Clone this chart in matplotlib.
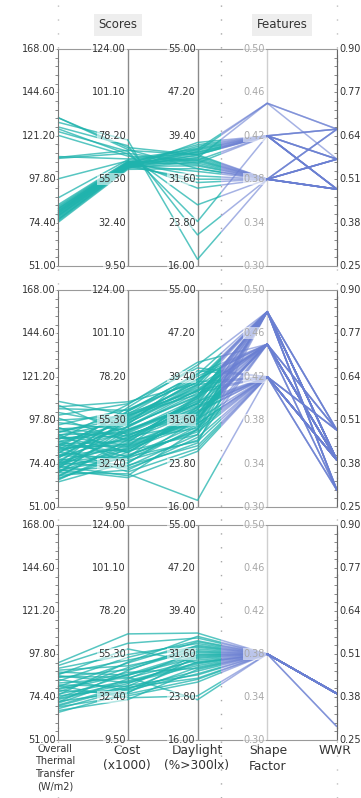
import numpy as np
import matplotlib
matplotlib.use("Agg")
import matplotlib.pyplot as plt
from matplotlib.collections import LineCollection
from matplotlib.patches import Rectangle
from matplotlib.ticker import MultipleLocator
from matplotlib.transforms import offset_copy

# axes of the parallel plot
axis_names = ["Overall\nThermal\nTransfer\n(W/m2)", "Cost\n(x1000)", "Daylight\n(%>300lx)",
              "Shape\nFactor", "WWR"]
axis_lo = [51.0, 9.5, 16.0, 0.30, 0.25]
axis_hi = [168.0, 124.0, 55.0, 0.50, 0.90]

# panel 1
p1_thermal = [74.5, 75.2, 75.8, 76.3, 76.9, 77.4, 77.9, 78.3, 78.8, 79.2, 79.7, 80.1, 80.6, 81.0,
              81.5, 82.0, 82.6, 83.2, 84.0, 78.0, 76.0, 80.5, 87.7, 79.5, 81.8, 131.0, 128.5,
              126.0, 123.5, 121.5, 131.0, 109.5, 109.0, 110.0, 125.0, 98.0]
p1_cost = [60.5, 61.0, 61.3, 61.6, 61.9, 62.1, 62.3, 62.5, 62.7, 62.9, 63.1, 63.3, 63.5, 63.7,
           63.9, 64.1, 64.3, 64.5, 64.8, 62.0, 61.5, 63.0, 65.5, 62.6, 63.6, 72.0, 76.0, 73.0,
           70.0, 67.5, 71.0, 70.5, 69.0, 66.0, 68.5, 65.0]
p1_daylight = [33.5, 34.8, 36.0, 35.2, 37.0, 34.0, 36.5, 35.5, 37.5, 33.0, 36.2, 34.5, 37.8, 35.8,
               32.2, 36.8, 35.0, 37.2, 34.2, 31.6, 38.2, 31.0, 36.4, 36.6, 35.4, 36.0, 17.2, 21.6,
               24.0, 35.0, 33.5, 36.0, 34.5, 37.0, 27.0, 30.0]
p1_shape = [0.38, 0.38, 0.42, 0.38, 0.42, 0.38, 0.42, 0.38, 0.42, 0.38, 0.42, 0.38, 0.42, 0.38,
            0.38, 0.42, 0.38, 0.42, 0.38, 0.38, 0.42, 0.38, 0.42, 0.45, 0.45, 0.42, 0.38, 0.38,
            0.42, 0.42, 0.38, 0.38, 0.42, 0.45, 0.38, 0.38]
p1_wwr = [0.48, 0.57, 0.48, 0.66, 0.57, 0.48, 0.66, 0.57, 0.48, 0.48, 0.57, 0.66, 0.48, 0.48,
          0.57, 0.66, 0.48, 0.57, 0.48, 0.57, 0.48, 0.48, 0.48, 0.66, 0.57, 0.48, 0.57, 0.48,
          0.66, 0.48, 0.57, 0.48, 0.57, 0.66, 0.48, 0.66]

# panel 2
p2_thermal = [64.5, 66.0, 67.2, 68.0, 69.1, 70.0, 70.8, 71.5, 72.3, 73.0, 73.8, 74.5, 75.2, 76.0,
              76.8, 77.5, 78.2, 79.0, 79.8, 80.5, 81.2, 82.0, 82.8, 83.5, 84.3, 85.0, 85.8, 86.5,
              87.3, 88.0, 88.8, 89.5, 90.3, 91.0, 92.0, 93.0, 94.0, 95.2, 96.5, 97.8, 99.0,
              100.5, 102.0, 104.0, 106.0, 108.0, 105.0, 71.0, 69.5, 75.0, 78.5, 84.0, 90.0, 66.5,
              67.8, 69.8, 71.8, 72.8, 74.2, 75.8, 77.2, 78.8, 80.2, 81.8, 83.2, 84.8, 86.2, 87.8,
              89.2, 91.5, 93.5, 70.5, 73.5, 65.5]
p2_cost = [33.0, 38.5, 45.0, 29.0, 52.0, 41.0, 35.5, 57.0, 48.0, 26.0, 43.5, 60.0, 37.0, 50.5,
           31.5, 54.5, 46.0, 40.0, 62.0, 34.0, 49.0, 56.0, 42.5, 28.0, 58.5, 44.0, 51.5, 36.0,
           63.5, 47.0, 39.0, 55.0, 32.5, 59.0, 45.5, 53.0, 38.0, 61.0, 50.0, 57.5, 44.5, 64.0,
           52.5, 60.5, 47.5, 58.0, 65.0, 25.0, 27.0, 30.0, 53.5, 41.5, 48.5, 36.5,
           43.0, 50.0, 39.5, 55.5, 46.5, 41.5, 58.0, 35.0, 52.0, 45.0, 60.0, 38.5, 54.0, 49.5,
           42.0, 56.5, 47.0, 31.0, 36.0, 40.5]
p2_daylight = [30.5, 33.0, 35.5, 28.5, 37.0, 31.5, 34.0, 38.5, 32.5, 30.0, 36.0, 40.0, 29.5, 34.5,
               27.0, 39.0, 33.5, 31.0, 41.5, 28.0, 35.0, 37.5, 32.0, 26.5, 39.5, 34.8, 36.5, 30.8,
               42.0, 33.8, 29.0, 38.0, 31.8, 36.8, 35.2, 40.5, 32.8, 38.8, 34.2, 37.2, 30.2, 41.0,
               35.8, 39.8, 33.2, 36.2, 38.2, 26.0, 17.2, 27.5, 37.8, 31.2, 34.6, 29.8,
               32.2, 34.6, 33.5, 36.8, 31.0, 35.8, 38.0, 30.0, 36.0, 33.0, 39.0, 32.5, 37.0, 35.5,
               31.5, 38.5, 34.0, 29.0, 27.8, 31.8]
p2_shape = [0.42, 0.45, 0.48, 0.42, 0.45, 0.48, 0.42, 0.48, 0.45, 0.42, 0.48, 0.45, 0.42, 0.48,
            0.42, 0.45, 0.48, 0.42, 0.48, 0.45, 0.42, 0.48, 0.45, 0.42, 0.45, 0.48, 0.42, 0.48,
            0.45, 0.42, 0.45, 0.48, 0.42, 0.45, 0.48, 0.42, 0.45, 0.48, 0.42, 0.45, 0.48, 0.42,
            0.45, 0.48, 0.42, 0.45, 0.48, 0.42, 0.42, 0.48, 0.45, 0.48, 0.45, 0.48,
            0.45, 0.42, 0.48, 0.45, 0.42, 0.48, 0.42, 0.45, 0.48, 0.42, 0.45, 0.48, 0.42, 0.45,
            0.48, 0.42, 0.45, 0.48, 0.42, 0.45]
p2_wwr = [0.39, 0.39, 0.30, 0.48, 0.39, 0.39, 0.30, 0.39, 0.48, 0.39, 0.39, 0.30, 0.39, 0.48,
          0.39, 0.39, 0.30, 0.39, 0.39, 0.48, 0.39, 0.39, 0.30, 0.39, 0.39, 0.48, 0.39, 0.39,
          0.30, 0.39, 0.39, 0.48, 0.39, 0.39, 0.30, 0.39, 0.39, 0.39, 0.48, 0.39, 0.39, 0.30,
          0.39, 0.39, 0.48, 0.39, 0.39, 0.39, 0.39, 0.30, 0.48, 0.39, 0.39, 0.39,
          0.39, 0.39, 0.30, 0.39, 0.48, 0.39, 0.39, 0.39, 0.30, 0.39, 0.39, 0.48, 0.39, 0.39,
          0.39, 0.30, 0.39, 0.39, 0.39, 0.48]

# panel 3
p3_thermal = [93.0, 91.5, 90.0, 89.0, 88.0, 87.0, 86.0, 85.0, 84.0, 83.0, 82.0, 81.0, 80.0, 79.0,
              78.0, 77.0, 76.0, 75.0, 74.0, 73.0, 72.0, 71.0, 70.0, 69.0, 68.0, 67.0, 66.0, 71.5,
              75.5, 80.5, 85.5, 73.5, 78.5, 69.5, 86.5]
p3_cost = [66.0, 61.0, 55.0, 49.0, 44.0, 52.0, 40.0, 47.0, 36.0, 53.5, 42.5, 38.0, 50.5, 45.5,
           34.0, 48.0, 41.0, 37.0, 44.5, 39.5, 35.0, 42.0, 38.5, 33.0, 36.5, 31.0, 34.5, 46.5,
           51.0, 32.0, 43.0, 40.5, 44.0, 37.5, 58.0]
p3_daylight = [35.4, 34.5, 33.5, 32.0, 31.0, 33.0, 29.5, 32.5, 28.0, 34.0, 30.5, 31.5, 33.8, 29.0,
               27.0, 32.8, 30.0, 28.5, 31.8, 30.8, 29.2, 32.2, 27.8, 26.5, 30.2, 28.8, 31.2, 33.2,
               34.8, 24.0, 23.3, 29.8, 31.4, 27.2, 30.0]
p3_shape = [0.38, 0.38, 0.38, 0.38, 0.38, 0.38, 0.38, 0.38, 0.38, 0.38, 0.38, 0.38, 0.38, 0.38,
            0.38, 0.38, 0.38, 0.38, 0.38, 0.38, 0.38, 0.38, 0.38, 0.38, 0.38, 0.38, 0.38, 0.38,
            0.38, 0.38, 0.38, 0.38, 0.38, 0.38, 0.38]
p3_wwr = [0.39, 0.39, 0.39, 0.29, 0.39, 0.39, 0.39, 0.39, 0.39, 0.39, 0.39, 0.39, 0.39, 0.39,
          0.39, 0.39, 0.29, 0.39, 0.39, 0.39, 0.39, 0.39, 0.39, 0.39, 0.39, 0.39, 0.39, 0.39,
          0.39, 0.39, 0.39, 0.39, 0.39, 0.39, 0.39]

panels = [
    [p1_thermal, p1_cost, p1_daylight, p1_shape, p1_wwr],
    [p2_thermal, p2_cost, p2_daylight, p2_shape, p2_wwr],
    [p3_thermal, p3_cost, p3_daylight, p3_shape, p3_wwr],
]

W, H = 361, 798
LEFT, RIGHT = 58, 337
SEP_PX = 221
SEP = (SEP_PX - LEFT) / ((RIGHT - LEFT) / 4)
panel_px = [(49, 266), (290, 507), (525, 740)]
TEAL = "#1fb3ad"
BLUE = "#6a7fd2"

fig = plt.figure(figsize=(W / 100, H / 100), dpi=100)

# background axes in pixel units for separators and titles
bg = fig.add_axes([0, 0, 1, 1])
bg.set_xlim(0, W)
bg.set_ylim(H, 0)
bg.axis("off")
bg.axvline(SEP_PX, color="#a8a8a8", lw=1.0, dashes=(1, 9))
bg.axvline(LEFT, color="#c0c0c0", lw=1.0, dashes=(1, 9))
bg.axvline(RIGHT, color="#c0c0c0", lw=1.0, dashes=(1, 9))

bg.text(118, 25, "Scores", ha="center", va="center", fontsize=8.5, color="#333333",
        bbox=dict(boxstyle="square,pad=0.4", fc="#eeeeee", ec="none"))
bg.text(282, 25, "Features", ha="center", va="center", fontsize=8.5, color="#333333",
        bbox=dict(boxstyle="square,pad=0.4", fc="#eeeeee", ec="none"))

label_x = [55, 127, 197, 268, 335]
for i, name in enumerate(axis_names):
    fs = 7.0 if i == 0 else 8.8
    bg.text(label_x[i], 744, name, ha="center", va="top", fontsize=fs, color="#333333",
            linespacing=1.3 if i == 0 else 1.25)

lo = np.array(axis_lo)[:, None]
hi = np.array(axis_hi)[:, None]
xs = np.arange(5)

for (top, bot), cols in zip(panel_px, panels):
    ax = fig.add_axes([LEFT / W, 1 - bot / H, (RIGHT - LEFT) / W, (bot - top) / H])
    ax.set_xlim(0, 4)
    ax.set_ylim(0, 1)
    ax.patch.set_alpha(0)
    for s in ["top", "bottom"]:
        ax.spines[s].set_color("#9a9a9a")
    ax.spines["left"].set_color("#777777")
    ax.spines["right"].set_color("#666666")
    ax.set_xticks([])
    ax.set_yticks(np.linspace(0, 1, 6))
    ax.yaxis.set_minor_locator(MultipleLocator(0.04))
    ax.tick_params(axis="y", which="both", direction="out", color="#888888",
                   labelleft=False, length=2.5, width=0.7)
    sec = ax.secondary_yaxis("right")
    sec.set_yticks(np.linspace(0, 1, 6))
    sec.yaxis.set_minor_locator(MultipleLocator(0.04))
    sec.tick_params(which="both", direction="in", labelright=False, length=2.5,
                    width=0.7, color="#888888")
    sec.spines["right"].set_color("#666666")
    ax.axvline(1, color="#8a8a8a", lw=1, zorder=1)
    ax.axvline(2, color="#8a8a8a", lw=1, zorder=1)
    ax.axvline(3, color="#cfcfcf", lw=1, zorder=1)

    vals = np.array(cols, dtype=float)
    norm = (vals - lo) / (hi - lo)
    segs = [np.column_stack([xs, norm[:, j]]) for j in range(norm.shape[1])]
    teal = LineCollection(segs, colors=TEAL, linewidths=1.1, alpha=0.75, zorder=2)
    blue = LineCollection(segs, colors=BLUE, linewidths=1.1, alpha=0.6, zorder=2)
    ax.add_collection(teal)
    ax.add_collection(blue)
    # colour switches at the Scores / Features separator
    teal.set_clip_path(Rectangle((-1, -1), SEP + 1, 3, transform=ax.transData))
    blue.set_clip_path(Rectangle((SEP, -1), 6, 3, transform=ax.transData))

    for i in range(5):
        if i == 4:
            tr = offset_copy(ax.transData, fig=fig, x=2, y=0, units="dots")
            ha = "left"
        else:
            tr = offset_copy(ax.transData, fig=fig, x=-2, y=0, units="dots")
            ha = "right"
        color = "#a8a8a8" if i == 3 else "#333333"
        for k in range(6):
            val = axis_lo[i] + k * (axis_hi[i] - axis_lo[i]) / 5
            ax.text(i, k / 5, f"{val:.2f}", transform=tr, ha=ha, va="center", fontsize=7.0,
                    color=color, zorder=5, clip_on=False,
                    bbox=dict(boxstyle="square,pad=0.1", fc="white", ec="none", alpha=0.55))

fig.savefig("out.png", dpi=100)
